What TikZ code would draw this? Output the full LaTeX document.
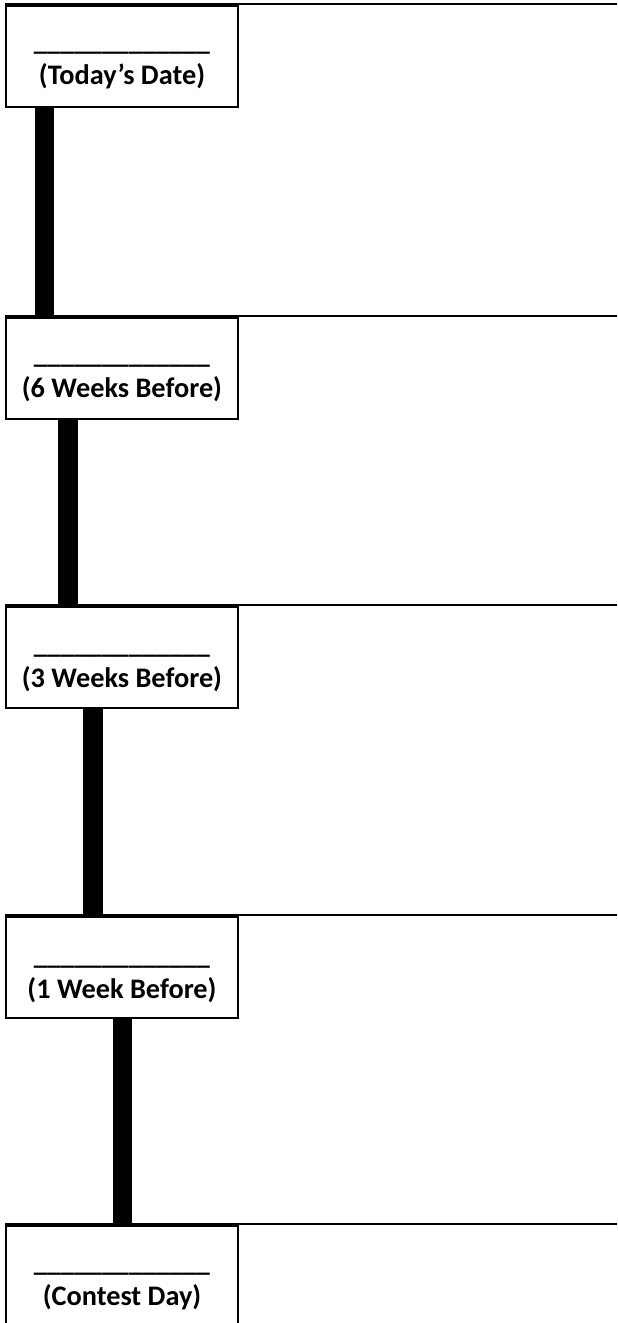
\documentclass[tikz,border=0pt]{standalone}
\usepackage{fontspec}
\setmainfont{Carlito}
\begin{document}
\begin{tikzpicture}[x=1pt,y=-1pt,
  datebox/.style={draw=black,line width=2.5pt,fill=white,inner sep=0pt,outer sep=0pt,
    minimum width=232pt,minimum height=101pt,anchor=north west},
  lastbox/.style={datebox,minimum height=130pt},
  hline/.style={draw=black,line width=1.5pt},
  bar/.style={draw=black,line width=19.5pt},
  txt/.style={font=\bfseries\fontsize{28.3}{34}\selectfont,inner sep=0pt,anchor=base},
  blank/.style={font=\bfseries\fontsize{27.2}{33}\selectfont,inner sep=0pt,anchor=base},
]
\clip (0,0) rectangle (618,1323);
\fill[white] (0,0) rectangle (618,1323);
% horizontal rules
\coordinate (e1) at (617,4);
\coordinate (e2) at (617,316);
\coordinate (e3) at (617,605);
\coordinate (e4) at (617,915);
\coordinate (e5) at (617,1224);
\draw[hline] (5,4) -- (e1);
\draw[hline] (5,316) -- (e2);
\draw[hline] (5,605) -- (e3);
\draw[hline] (5,915) -- (e4);
\draw[hline] (5,1224) -- (e5);
% boxes
\node[datebox] (b1) at (6,6) {};
\node[datebox] (b2) at (6,318) {};
\node[datebox] (b3) at (6,607) {};
\node[datebox] (b4) at (6,917) {};
\node[lastbox] (b5) at (6,1226) {};
% bars
\draw[bar] ([xshift=38.5pt]b1.south west) -- ([xshift=38.5pt]b2.north west);
\draw[bar] ([xshift=62pt]b2.south west) -- ([xshift=62pt]b3.north west);
\draw[bar] ([xshift=87pt]b3.south west) -- ([xshift=87pt]b4.north west);
\draw[bar] ([xshift=116.5pt]b4.south west) -- ([xshift=116.5pt]b5.north west);
% texts
\node[blank] (u1) at (122,50) {\_\_\_\_\_\_\_\_\_\_\_\_\_};
\node[txt] (l1) at (122,84.5) {(Today’s Date)};
\node[blank] (u2) at (122,363) {\_\_\_\_\_\_\_\_\_\_\_\_\_};
\node[txt] (l2) at (122,397.5) {(6 Weeks Before)};
\node[blank] (u3) at (122,653) {\_\_\_\_\_\_\_\_\_\_\_\_\_};
\node[txt] (l3) at (122,687.5) {(3 Weeks Before)};
\node[blank] (u4) at (122,964) {\_\_\_\_\_\_\_\_\_\_\_\_\_};
\node[txt] (l4) at (122,998.5) {(1 Week Before)};
\node[blank] (u5) at (122,1271) {\_\_\_\_\_\_\_\_\_\_\_\_\_};
\node[txt] (l5) at (122,1305.5) {(Contest Day)};
\end{tikzpicture}
\end{document}
